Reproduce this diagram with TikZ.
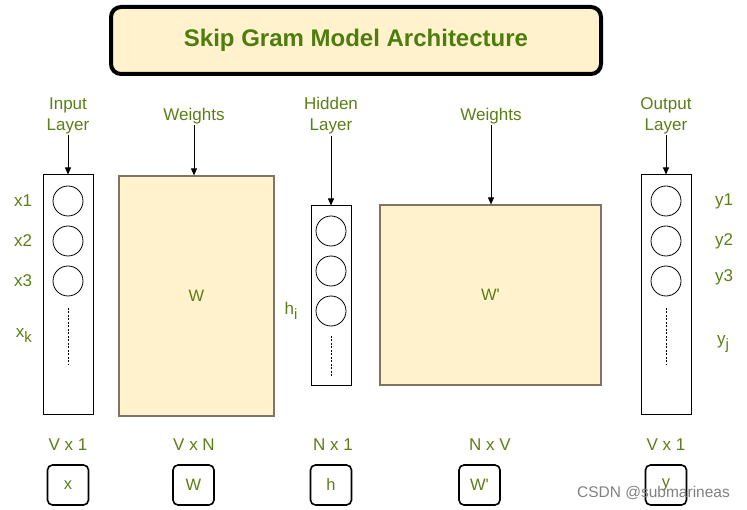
\documentclass[tikz,border=0pt]{standalone}
\usepackage{fontspec}
\setmainfont{Liberation Sans}
\newfontfamily\plainsans{Liberation Sans}
\usetikzlibrary{arrows.meta}
\definecolor{titlegreen}{HTML}{4D7C0F}
\definecolor{labelgreen}{HTML}{5B7E16}
\definecolor{paleyellow}{HTML}{FFF2CC}
\definecolor{wedge}{HTML}{7F7566}
\newcommand{\lowsub}[1]{\raisebox{-5pt}{\fontsize{15}{15}\selectfont #1}}
\tikzset{
  layerbox/.style={draw=black,line width=1pt,fill=white,inner sep=0pt},
  weightbox/.style={draw=wedge,line width=1.2pt,fill=paleyellow,inner sep=0pt,font=\fontsize{16.5}{18}\selectfont,text=labelgreen},
  neuron/.style={draw=black,line width=0.8pt,circle,minimum size=30pt,inner sep=0pt},
  lbl/.style={text=labelgreen,font=\fontsize{17}{21}\selectfont,align=center,inner sep=1pt},
  dimbox/.style={draw=black,line width=1.6pt,rounded corners=5pt,minimum width=41pt,minimum height=40pt,inner sep=0pt,text=labelgreen,font=\fontsize{16.5}{18}\selectfont},
  feed/.style={-{Triangle[length=7pt,width=6pt]},line width=0.8pt},
  dots/.style={dashed,dash pattern=on 2pt off 1.5pt,line width=0.8pt}
}
\begin{document}
\begin{tikzpicture}[x=1pt,y=-1pt]
\useasboundingbox (0,0) rectangle (747,510);
% title
\node[draw=black,line width=4pt,rounded corners=10pt,fill=paleyellow,minimum width=490pt,minimum height=67pt,
  text=titlegreen,font=\fontsize{24}{28}\selectfont\bfseries] (title) at (356,40.5) {Skip Gram Model Architecture};
% input layer
\node[layerbox,minimum width=50pt,minimum height=240pt] (inbox) at (68,295) {};
\node[neuron] (in1) at (68,201) {};
\node[neuron] (in2) at (68,241) {};
\node[neuron] (in3) at (68,281) {};
\coordinate (indot1) at (68,308);
\coordinate (indot2) at (68,365);
\draw[dots] (indot1) -- (indot2);
\node[lbl] (x1) at (23,201) {x1};
\node[lbl] (x2) at (23,241) {x2};
\node[lbl] (x3) at (23,281) {x3};
\node[lbl] (xk) at (24,336) {x\lowsub{k}};
\node[lbl] (inlbl) at (68,116) {Input\\Layer};
\draw[feed] (inlbl.south) -- (inbox.north);
% W
\node[weightbox,minimum width=155pt,minimum height=240pt] (wbox) at (196.5,296) {W};
\node[lbl] (wlbl) at (194,116) {Weights};
\draw[feed] (wlbl.south) -- (wlbl.south |- wbox.north);
% hidden layer
\node[layerbox,minimum width=40pt,minimum height=180pt] (hbox) at (331,296) {};
\node[neuron] (h1) at (331,231) {};
\node[neuron] (h2) at (331,271) {};
\node[neuron] (h3) at (331,311) {};
\coordinate (hdot1) at (331,336);
\coordinate (hdot2) at (331,378);
\draw[dots] (hdot1) -- (hdot2);
\node[lbl] (hi) at (291,311) {h\lowsub{i}};
\node[lbl] (hlbl) at (331,116) {Hidden\\Layer};
\draw[feed] (hlbl.south) -- (hbox.north);
% W'
\node[weightbox,minimum width=221pt,minimum height=180pt] (wpbox) at (490.5,295) {\plainsans W'};
\node[lbl] (wplbl) at (491,116) {Weights};
\draw[feed] (wplbl.south) -- (wplbl.south |- wpbox.north);
% output layer
\node[layerbox,minimum width=50pt,minimum height=240pt] (outbox) at (666,295) {};
\node[neuron] (out1) at (666,201) {};
\node[neuron] (out2) at (666,241) {};
\node[neuron] (out3) at (666,281) {};
\coordinate (outdot1) at (666,308);
\coordinate (outdot2) at (666,365);
\draw[dots] (outdot1) -- (outdot2);
\node[lbl] (y1) at (724,201) {y1};
\node[lbl] (y2) at (724,241) {y2};
\node[lbl] (y3) at (724,277) {y3};
\node[lbl] (yj) at (723,344) {y\lowsub{j}};
\node[lbl] (outlbl) at (666,116) {Output\\Layer};
\draw[feed] (outlbl.south) -- (outbox.north);
% dimensions
\node[lbl] (dimx) at (68,445) {V x 1};
\node[lbl] (dimw) at (194,445) {V x N};
\node[lbl] (dimh) at (333,445) {N x 1};
\node[lbl] (dimwp) at (490,445) {N x V};
\node[lbl] (dimy) at (666,445) {V x 1};
\node[dimbox] (symx) at (68,485) {x};
\node[dimbox] (symw) at (193.5,485) {W};
\node[dimbox] (symh) at (331,485) {h};
\node[dimbox] (symwp) at (479.5,485) {\plainsans W'};
\node[dimbox] (symy) at (666,485) {y};
% watermark
\node[text=gray,font=\fontsize{15.5}{17}\selectfont,inner sep=0pt] (mark) at (653.5,493) {CSDN @submarineas};
\end{tikzpicture}
\end{document}
